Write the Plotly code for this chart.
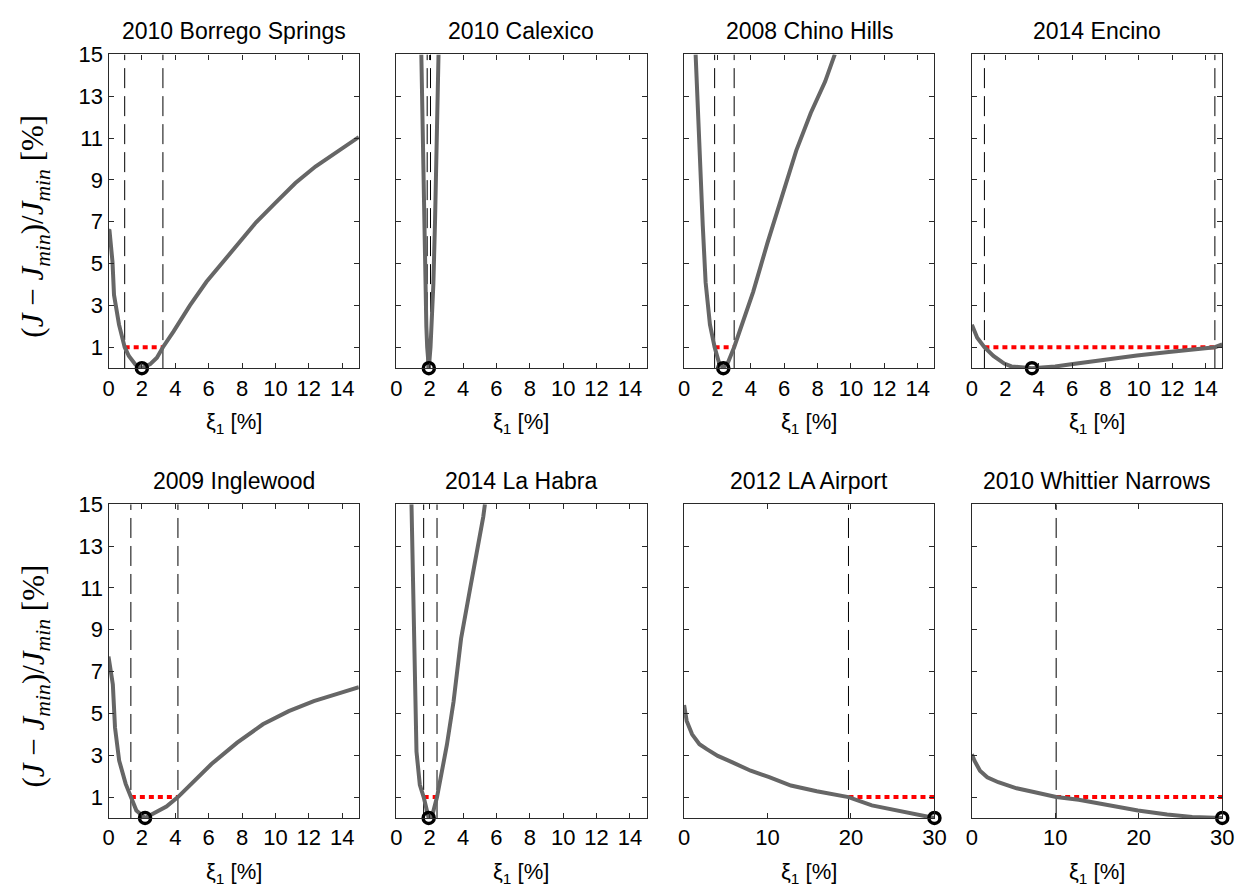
import plotly.graph_objects as go

# ---- panel titles ----
titles = ["2010 Borrego Springs", "2010 Calexico", "2008 Chino Hills", "2014 Encino",
          "2009 Inglewood", "2014 La Habra", "2012 LA Airport", "2010 Whittier Narrows"]

# ---- misfit curves: damping ratio xi_1 [%] vs (J - Jmin)/Jmin [%] ----
borrego_xi = [0.0, 0.06, 0.24, 0.33, 0.63, 0.97, 1.22, 1.62, 2.0, 2.5, 2.9, 3.26, 3.9,
              4.88, 5.87, 6.86, 7.85, 8.83, 10.0, 11.2, 12.4, 13.6, 15.0]
borrego_j = [6.6, 6.57, 5.07, 3.5, 2.08, 1.0, 0.58, 0.16, 0.0, 0.19, 0.5, 1.0, 1.76,
             3.0, 4.13, 5.07, 6.0, 6.96, 7.9, 8.85, 9.64, 10.27, 11.05]

calexico_xi = [1.50, 1.58, 1.65, 1.72, 1.80, 1.85, 1.95, 2.05, 2.12, 2.22, 2.32, 2.43, 2.53]
calexico_j = [15.0, 11.0, 7.0, 4.0, 2.0, 1.0, 0.0, 1.0, 2.0, 4.0, 7.0, 11.0, 15.0]

chino_xi = [0.69, 0.90, 1.12, 1.29, 1.55, 1.83, 2.09, 2.35, 2.63, 3.0, 3.49, 4.14,
            5.0, 5.86, 6.72, 7.59, 8.45, 9.03]
chino_j = [15.0, 10.7, 6.8, 4.1, 2.08, 1.0, 0.27, 0.0, 0.27, 1.0, 2.08, 3.65,
           6.0, 8.2, 10.4, 12.2, 13.7, 15.0]

encino_xi = [0.0, 0.32, 0.75, 1.29, 1.94, 2.37, 3.6, 4.99, 6.06, 7.85, 9.89, 11.8,
             13.5, 14.56, 15.0]
encino_j = [2.08, 1.45, 1.0, 0.58, 0.22, 0.08, 0.0, 0.08, 0.2, 0.4, 0.6, 0.77,
            0.94, 1.0, 1.13]

inglewood_xi = [0.0, 0.26, 0.39, 0.64, 1.03, 1.34, 1.67, 2.19, 2.7, 3.47, 4.16, 5.14,
                6.17, 7.71, 9.25, 10.8, 12.3, 13.9, 15.0]
inglewood_j = [7.72, 6.38, 4.32, 2.74, 1.63, 1.0, 0.36, 0.0, 0.2, 0.55, 1.0, 1.79,
               2.58, 3.6, 4.48, 5.11, 5.59, 5.98, 6.25]

lahabra_xi = [0.91, 0.99, 1.09, 1.21, 1.41, 1.64, 1.94, 2.14, 2.44, 2.69, 3.03, 3.43,
              3.88, 4.42, 4.91, 5.21, 5.31]
lahabra_j = [15.0, 11.1, 7.14, 3.17, 1.59, 1.0, 0.0, 0.08, 1.0, 2.06, 3.49, 5.56,
             8.57, 10.95, 13.0, 14.4, 15.0]

laairport_xi = [0.0, 0.31, 0.96, 1.84, 2.72, 4.04, 5.79, 7.98, 10.2, 12.8,
                15.9, 19.7, 22.5, 25.5, 28.2, 30.0]
laairport_j = [5.4, 4.64, 4.0, 3.53, 3.29, 2.97, 2.66, 2.26, 1.95, 1.55,
               1.28, 1.0, 0.6, 0.36, 0.13, 0.0]

whittier_xi = [0.0, 0.31, 0.97, 1.84, 3.16, 5.36, 7.55, 10.1, 12.8, 16.3, 19.9,
               23.4, 26.4, 30.0]
whittier_j = [3.05, 2.74, 2.26, 1.95, 1.71, 1.42, 1.23, 1.0, 0.87, 0.6, 0.36,
              0.17, 0.05, 0.0]

# ---- 1 % tolerance band limits and optimum damping per record ----
band_low = [0.97, 1.85, 1.83, 0.75, 1.34, 1.64, 19.7, 10.1]
band_high = [3.26, 2.05, 3.0, 14.56, 4.16, 2.44, 30.0, 30.0]
xi_opt = [2.0, 1.95, 2.35, 3.6, 2.19, 1.94, 30.0, 30.0]
show_high_line = [True, True, True, True, True, True, False, False]
xi_max = [15, 15, 15, 15, 15, 15, 30, 30]
tolerance = 1.0

xi_series = [borrego_xi, calexico_xi, chino_xi, encino_xi,
             inglewood_xi, lahabra_xi, laairport_xi, whittier_xi]
j_series = [borrego_j, calexico_j, chino_j, encino_j,
            inglewood_j, lahabra_j, laairport_j, whittier_j]

y_ticks = [1, 3, 5, 7, 9, 11, 13, 15]

# ---- layout geometry (pixels of a 1250 x 890 page) ----
W, H = 1250, 890
col_left = [104, 396, 688, 980]
panel_w = 254
row_top = [43, 499]
panel_h = 318

FONT = "Liberation Sans, Arial, Helvetica, sans-serif"
CURVE = "rgb(102,102,102)"
AXIS = "#2a2a2a"

fig = go.Figure()
layout = dict(
    width=W, height=H, margin=dict(l=0, r=0, t=0, b=0),
    paper_bgcolor="white", plot_bgcolor="white", showlegend=False,
    font=dict(family=FONT, size=22, color="black"),
)
annotations = []

for k in range(8):
    r, c = divmod(k, 4)
    n = k + 1
    xa = "xaxis" if n == 1 else f"xaxis{n}"
    ya = "yaxis" if n == 1 else f"yaxis{n}"
    xref = "x" if n == 1 else f"x{n}"
    yref = "y" if n == 1 else f"y{n}"

    x0 = col_left[c] / W
    x1 = (col_left[c] + panel_w) / W
    y1 = 1 - row_top[r] / H
    y0 = 1 - (row_top[r] + panel_h) / H

    xm = xi_max[k]
    xt = list(range(0, xm, 2)) if xm == 15 else [0, 10, 20, 30]

    layout[xa] = dict(
        domain=[x0, x1], range=[0, xm], anchor=yref,
        tickvals=xt, ticktext=[str(v) for v in xt],
        ticks="inside", ticklen=5, tickwidth=1, tickcolor=AXIS,
        showline=True, linecolor=AXIS, linewidth=1.2, mirror="allticks",
        showgrid=False, zeroline=False,
        tickfont=dict(family=FONT, size=22, color="black"),
    )
    layout[ya] = dict(
        domain=[y0, y1], range=[0, 15], anchor=xref,
        tickvals=y_ticks, ticktext=[str(v) for v in y_ticks],
        showticklabels=(c == 0),
        ticks="inside", ticklen=5, tickwidth=1, tickcolor=AXIS,
        showline=True, linecolor=AXIS, linewidth=1.2, mirror="allticks",
        showgrid=False, zeroline=False,
        tickfont=dict(family=FONT, size=22, color="black"),
    )

    # dashed bounds of the tolerance band
    bounds = [band_low[k]] + ([band_high[k]] if show_high_line[k] else [])
    for b in bounds:
        fig.add_trace(go.Scatter(
            x=[b, b], y=[0, 15], mode="lines", xaxis=xref, yaxis=yref,
            line=dict(color="black", width=1, dash="20px,8px"), hoverinfo="skip"))

    # 1 % tolerance level
    fig.add_trace(go.Scatter(
        x=[band_low[k], band_high[k]], y=[tolerance, tolerance], mode="lines",
        xaxis=xref, yaxis=yref,
        line=dict(color="red", width=4, dash="5px,4px"), hoverinfo="skip"))

    # misfit curve
    fig.add_trace(go.Scatter(
        x=xi_series[k], y=j_series[k], mode="lines", xaxis=xref, yaxis=yref,
        line=dict(color=CURVE, width=4), hoverinfo="skip"))

    # optimum
    fig.add_trace(go.Scatter(
        x=[xi_opt[k]], y=[0], mode="markers", xaxis=xref, yaxis=yref,
        cliponaxis=False,
        marker=dict(symbol="circle-open", size=11, color="black",
                    line=dict(color="black", width=3.5)), hoverinfo="skip"))

    # panel title
    annotations.append(dict(
        text=titles[k], xref="paper", yref="paper",
        x=(x0 + x1) / 2, y=1 - (row_top[r] - 24) / H,
        xanchor="center", yanchor="middle", showarrow=False,
        font=dict(family=FONT, size=23, color="black")))

    # x-axis label
    annotations.append(dict(
        text="\u03be<sub>1</sub> [%]", xref="paper", yref="paper",
        x=(x0 + x1) / 2, y=1 - (row_top[r] + panel_h + 56) / H,
        xanchor="center", yanchor="middle", showarrow=False,
        font=dict(family=FONT, size=22, color="black")))

# y-axis labels, one per row
for r in range(2):
    annotations.append(dict(
        text="(<i>J</i> \u2212 <i>J</i><sub><i>min</i></sub>)/<i>J</i><sub><i>min</i></sub> [%]",
        xref="paper", yref="paper",
        x=30 / W, y=1 - (row_top[r] + 174) / H, textangle=-90,
        xanchor="center", yanchor="middle", showarrow=False,
        font=dict(family="Liberation Serif, DejaVu Serif, serif", size=31, color="black")))

layout["annotations"] = annotations
fig.update_layout(**layout)
fig.write_html("out.html")
